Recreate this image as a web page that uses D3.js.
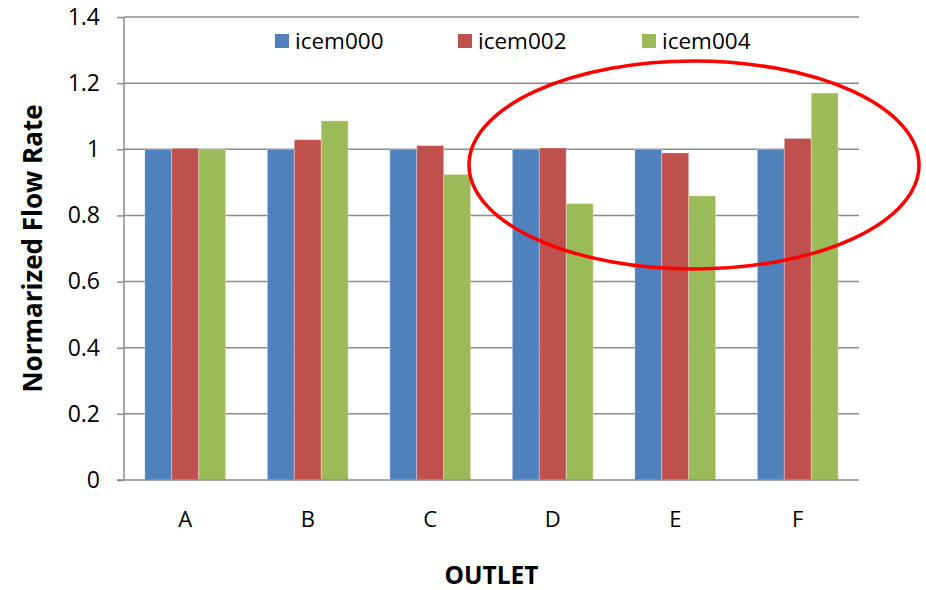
<!DOCTYPE html>
<html>
<head>
<meta charset="utf-8">
<script src="https://cdn.jsdelivr.net/npm/d3@7"></script>
<style>
  body { margin: 0; background: #fff; }
  svg { display: block; font-family: "Open Sans", "Liberation Sans", sans-serif; }
</style>
</head>
<body>
<div id="chart"></div>
<script>
const outlets = ["A", "B", "C", "D", "E", "F"];
const seriesNames = ["icem000", "icem002", "icem004"];
const icem000 = [1.0, 1.0, 1.0, 1.0, 1.0, 1.0];
const icem002 = [1.003, 1.029, 1.011, 1.004, 0.989, 1.033];
const icem004 = [0.999, 1.086, 0.924, 0.836, 0.859, 1.170];
const yTicks = [0, 0.2, 0.4, 0.6, 0.8, 1, 1.2, 1.4];
const colors = ["#4F81BD", "#C0504D", "#9BBB59"];

const width = 926, height = 590;
const margin = {left: 124, right: 67, top: 17, bottom: 110};

const svg = d3.select("#chart").append("svg")
    .attr("width", width)
    .attr("height", height);

const x = d3.scaleBand()
    .domain(outlets)
    .range([margin.left, width - margin.right])
    .paddingInner(0.34)
    .paddingOuter(0.17);

const xSeries = d3.scaleBand()
    .domain(seriesNames)
    .range([0, x.bandwidth()]);

const y = d3.scaleLinear()
    .domain([0, 1.4])
    .range([height - margin.bottom, margin.top]);

// gridlines
svg.append("g")
    .selectAll("line")
    .data(yTicks.slice(1))
    .enter().append("line")
    .attr("x1", margin.left)
    .attr("x2", width - margin.right)
    .attr("y1", d => y(d))
    .attr("y2", d => y(d))
    .attr("stroke", "#8c8c8c")
    .attr("stroke-width", 1.5);

// bars
const table = outlets.map((o, i) => ({outlet: o, values: [icem000[i], icem002[i], icem004[i]]}));

const group = svg.append("g")
    .selectAll("g")
    .data(table)
    .enter().append("g")
    .attr("transform", d => "translate(" + x(d.outlet) + ",0)");

group.selectAll("rect")
    .data(d => d.values.map((v, j) => ({name: seriesNames[j], value: v, color: colors[j]})))
    .enter().append("rect")
    .attr("x", d => xSeries(d.name))
    .attr("width", xSeries.bandwidth())
    .attr("y", d => y(d.value))
    .attr("height", d => y(0) - y(d.value))
    .attr("fill", d => d.color)
    .attr("stroke", "#ffffff")
    .attr("stroke-opacity", 0.4)
    .attr("stroke-width", 0.8);

// y axis
const yAxis = svg.append("g")
    .attr("transform", "translate(" + margin.left + ",0)")
    .call(d3.axisLeft(y).tickValues(yTicks).tickSize(7).tickPadding(17).tickFormat(d3.format("~g")));
yAxis.select(".domain").attr("stroke", "#8c8c8c").attr("stroke-width", 1.5).attr("d", "M0," + y(1.4) + "V" + y(0));
yAxis.selectAll(".tick line").attr("stroke", "#8c8c8c").attr("stroke-width", 1.5);
yAxis.selectAll(".tick text").attr("font-size", 23).attr("fill", "#000").attr("font-family", "'Open Sans', sans-serif");

// x axis
const xAxis = svg.append("g")
    .attr("transform", "translate(0," + y(0) + ")")
    .call(d3.axisBottom(x).tickSize(0).tickPadding(31));
xAxis.select(".domain").attr("stroke", "#8c8c8c").attr("stroke-width", 1.5)
    .attr("d", "M" + (margin.left - 7) + ",0H" + (width - margin.right));
xAxis.selectAll(".tick text").attr("font-size", 22).attr("fill", "#000").attr("font-family", "'Open Sans', sans-serif");

// axis titles
svg.append("text")
    .attr("x", (margin.left + width - margin.right) / 2)
    .attr("y", 584)
    .attr("text-anchor", "middle")
    .attr("font-size", 24.5)
    .attr("font-weight", "bold")
    .text("OUTLET");

svg.append("text")
    .attr("transform", "translate(42," + ((y(0) + y(1.4)) / 2) + ") rotate(-90)")
    .attr("text-anchor", "middle")
    .attr("font-size", 26)
    .attr("font-weight", "bold")
    .text("Normarized Flow Rate");

// legend
const legendX = [275, 458, 642];
const legend = svg.append("g")
    .selectAll("g")
    .data(seriesNames)
    .enter().append("g")
    .attr("transform", (d, i) => "translate(" + legendX[i] + ",34)");
legend.append("rect")
    .attr("width", 14)
    .attr("height", 14)
    .attr("fill", (d, i) => colors[i]);
legend.append("text")
    .attr("x", 20)
    .attr("y", 15)
    .attr("font-size", 22.5)
    .text(d => d);

// highlight ellipse
svg.append("ellipse")
    .attr("cx", 694)
    .attr("cy", 165)
    .attr("rx", 225)
    .attr("ry", 104)
    .attr("fill", "none")
    .attr("stroke", "#ff0000")
    .attr("stroke-width", 3.5);
</script>
</body>
</html>
